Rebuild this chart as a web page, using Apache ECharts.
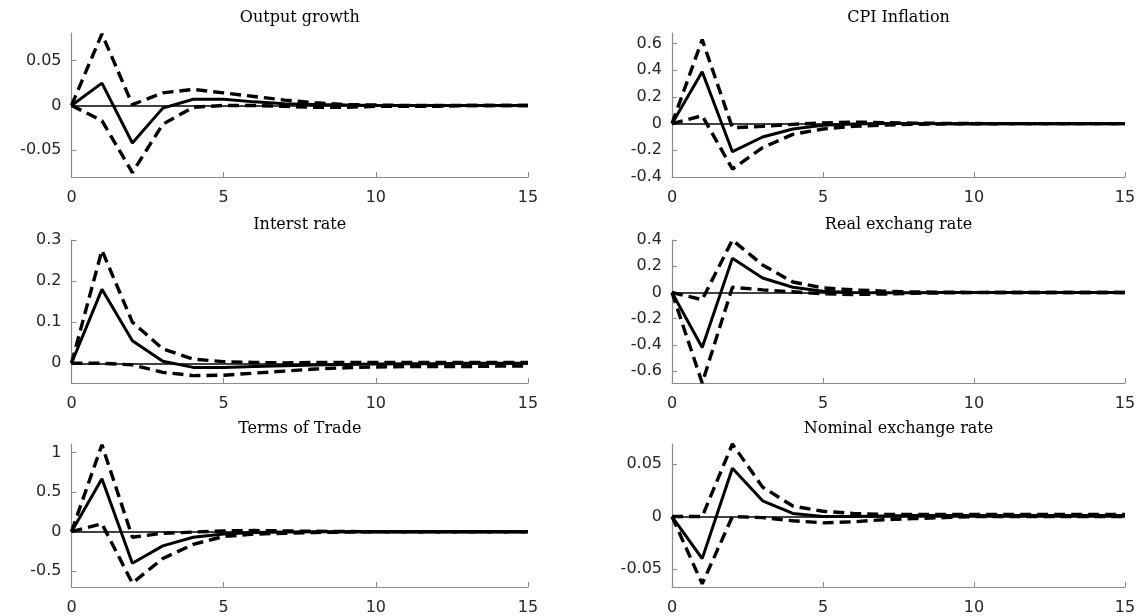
<!DOCTYPE html>
<html>
<head>
<meta charset="utf-8">
<script src="https://cdn.jsdelivr.net/npm/echarts@6/dist/echarts.min.js"></script>
<style>
  html, body { margin: 0; padding: 0; background: #fff; }
  #chart { width: 1145px; height: 616px; }
</style>
</head>
<body>
<div id="chart"></div>
<script>
// Impulse responses over 15 periods: median response (solid) and bands (dashed)
const horizon = [0, 1, 2, 3, 4, 5, 6, 7, 8, 9, 10, 11, 12, 13, 14, 15];

const panelTitles = ['Output growth', 'CPI Inflation', 'Interst rate',
                     'Real exchang rate', 'Terms of Trade', 'Nominal exchange rate'];

// Output growth
const outputMean  = [0, 0.025, -0.042, -0.003, 0.007, 0.007, 0.004, 0.002, 0.001, 0.0005, 0, 0, 0, 0, 0, 0];
const outputUpper = [0, 0.080, 0.001, 0.014, 0.018, 0.014, 0.010, 0.006, 0.003, 0.001, 0.0005, 0, 0, 0, 0, 0];
const outputLower = [0, -0.017, -0.075, -0.021, -0.002, 0, 0, -0.001, -0.002, -0.002, -0.001, -0.001, -0.001, 0, 0, 0];

// CPI inflation
const cpiMean  = [0, 0.39, -0.21, -0.10, -0.04, -0.012, -0.002, 0.001, 0.001, 0, 0, 0, 0, 0, 0, 0];
const cpiUpper = [0, 0.63, -0.03, -0.02, -0.005, 0.005, 0.012, 0.008, 0.004, 0.002, 0.001, 0, 0, 0, 0, 0];
const cpiLower = [0, 0.06, -0.34, -0.18, -0.08, -0.04, -0.02, -0.01, -0.005, -0.002, -0.001, 0, 0, 0, 0, 0];

// Interest rate
const rateMean  = [0, 0.18, 0.055, 0.005, -0.01, -0.01, -0.008, -0.006, -0.004, -0.003, -0.002, -0.001, -0.001, 0, 0, 0];
const rateUpper = [0, 0.275, 0.10, 0.035, 0.01, 0.004, 0.002, 0.001, 0.002, 0.002, 0.002, 0.002, 0.002, 0.002, 0.002, 0.002];
const rateLower = [0, 0.0, -0.004, -0.022, -0.030, -0.029, -0.024, -0.019, -0.014, -0.011, -0.009, -0.008, -0.008, -0.008, -0.007, -0.007];

// Real exchange rate
const rerMean  = [0, -0.42, 0.26, 0.11, 0.04, 0.01, 0.0, -0.002, -0.002, -0.001, 0, 0, 0, 0, 0, 0];
const rerUpper = [0, -0.055, 0.40, 0.21, 0.08, 0.035, 0.02, 0.01, 0.004, 0.002, 0.001, 0, 0, 0, 0, 0];
const rerLower = [0, -0.69, 0.04, 0.02, 0.005, -0.01, -0.015, -0.012, -0.006, -0.003, -0.001, 0, 0, 0, 0, 0];

// Terms of trade
const totMean  = [0, 0.67, -0.40, -0.18, -0.07, -0.03, -0.01, -0.003, 0, 0, 0, 0, 0, 0, 0, 0];
const totUpper = [0, 1.10, -0.07, -0.02, -0.005, 0.01, 0.015, 0.01, 0.005, 0.002, 0, 0, 0, 0, 0, 0];
const totLower = [0, 0.10, -0.65, -0.34, -0.16, -0.06, -0.03, -0.02, -0.01, -0.005, -0.002, 0, 0, 0, 0, 0];

// Nominal exchange rate
const nerMean  = [0, -0.040, 0.046, 0.015, 0.003, 0.0, 0.0, 0.0005, 0.001, 0.001, 0.001, 0.001, 0.001, 0.001, 0.001, 0.001];
const nerUpper = [0, 0.0, 0.069, 0.028, 0.010, 0.005, 0.003, 0.002, 0.002, 0.002, 0.002, 0.002, 0.002, 0.002, 0.002, 0.002];
const nerLower = [0, -0.064, 0.0, -0.001, -0.004, -0.006, -0.005, -0.003, -0.002, -0.001, 0, 0, 0, 0, 0, 0];

// Axis ranges and tick labels
const yRanges = [[-0.08, 0.081], [-0.4, 0.68], [-0.048, 0.3], [-0.69, 0.4], [-0.7, 1.11], [-0.067, 0.069]];
const yTicks = [
  [-0.05, 0, 0.05],
  [-0.4, -0.2, 0, 0.2, 0.4, 0.6],
  [0, 0.1, 0.2, 0.3],
  [-0.6, -0.4, -0.2, 0, 0.2, 0.4],
  [-0.5, 0, 0.5, 1],
  [-0.05, 0, 0.05]
];
const xTicks = [0, 5, 10, 15];

const panels = [
  [outputMean, outputUpper, outputLower],
  [cpiMean, cpiUpper, cpiLower],
  [rateMean, rateUpper, rateLower],
  [rerMean, rerUpper, rerLower],
  [totMean, totUpper, totLower],
  [nerMean, nerUpper, nerLower]
];

// Layout of the 3 x 2 panel grid (pixels)
const colLeft = [71.5, 672];
const colWidth = [456.5, 453];
const rowTop = [33, 240, 444];
const rowHeight = [144, 143, 145];

const axisGray = '#8a8a8a';
const tickFont = { fontFamily: 'DejaVu Sans', fontSize: 16, color: '#262626' };

const grids = [], xAxes = [], yAxes = [], series = [], graphics = [];

panels.forEach((p, i) => {
  const r = Math.floor(i / 2), c = i % 2;
  grids.push({ left: colLeft[c], top: rowTop[r], width: colWidth[c], height: rowHeight[r] });
  xAxes.push({
    type: 'value', gridIndex: i, min: 0, max: 15, interval: 5,
    axisLine: { show: true, onZero: false, lineStyle: { color: axisGray, width: 1.2 } },
    axisTick: { show: true, inside: true, length: 5, customValues: xTicks, lineStyle: { color: axisGray } },
    axisLabel: Object.assign({ margin: 13, customValues: xTicks, formatter: v => String(v) }, tickFont),
    splitLine: { show: false }
  });
  yAxes.push({
    type: 'value', gridIndex: i, min: yRanges[i][0], max: yRanges[i][1],
    axisLine: { show: true, lineStyle: { color: axisGray, width: 1.2 } },
    axisTick: { show: true, inside: true, length: 5, customValues: yTicks[i], lineStyle: { color: axisGray } },
    axisLabel: Object.assign({ margin: 10, customValues: yTicks[i],
      formatter: v => String(+Number(v).toFixed(4)) }, tickFont),
    splitLine: { show: false }
  });

  const pts = arr => horizon.map((h, k) => [h, arr[k]]);
  const base = { type: 'line', xAxisIndex: i, yAxisIndex: i, showSymbol: false, symbol: 'none',
                 silent: true, animation: false };

  series.push(Object.assign({}, base, {
    data: pts(p[1]), lineStyle: { color: '#000', width: 3.4, type: [11, 6] }, z: 3
  }));
  series.push(Object.assign({}, base, {
    data: pts(p[2]), lineStyle: { color: '#000', width: 3.4, type: [11, 6] }, z: 3
  }));
  series.push(Object.assign({}, base, {
    data: pts(p[0]), lineStyle: { color: '#000', width: 3, type: 'solid' }, z: 4,
    markLine: {
      silent: true, symbol: 'none', animation: false,
      label: { show: false },
      lineStyle: { color: '#000', width: 1.5, type: 'solid' },
      data: [{ yAxis: 0 }]
    }
  }));

  graphics.push({
    type: 'text',
    x: colLeft[c] + colWidth[c] / 2,
    y: rowTop[r] - 15,
    style: {
      text: panelTitles[i], fill: '#000',
      font: '16px "DejaVu Serif"',
      textAlign: 'center', textVerticalAlign: 'middle'
    }
  });
});

const chart = echarts.init(document.getElementById('chart'), null, { renderer: 'canvas' });
chart.setOption({
  backgroundColor: '#fff',
  animation: false,
  grid: grids,
  xAxis: xAxes,
  yAxis: yAxes,
  series: series,
  graphic: graphics
});
</script>
</body>
</html>
